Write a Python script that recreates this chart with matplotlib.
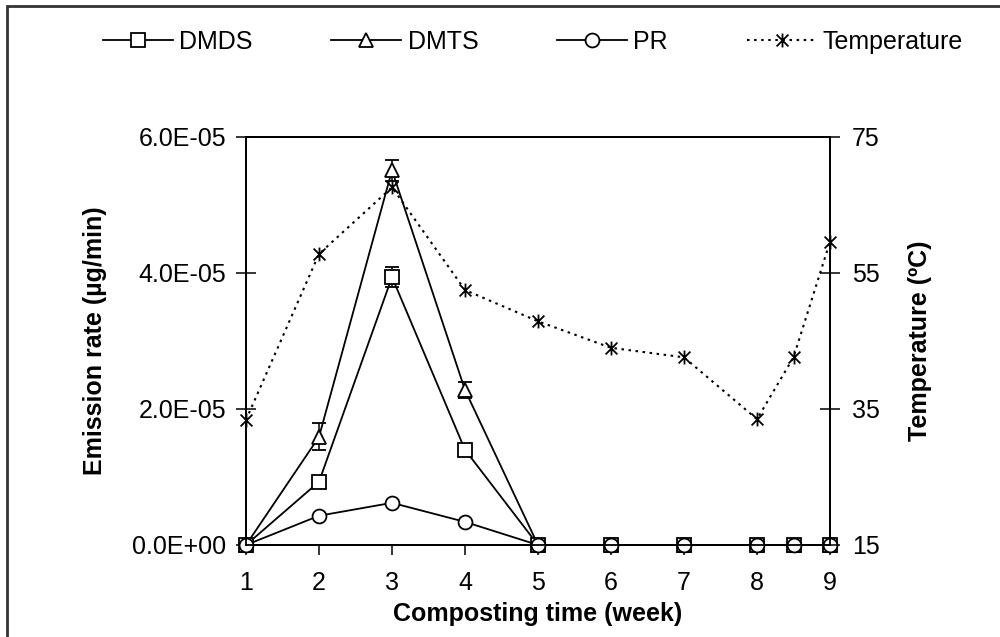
import numpy as np
import matplotlib.pyplot as plt
from matplotlib.path import Path
from matplotlib.patches import Rectangle
from matplotlib.lines import Line2D

plt.rcParams['font.family'] = ['Liberation Sans', 'DejaVu Sans']

weeks = [1, 2, 3, 4, 5, 6, 7, 8, 8.5, 9]

# emission rates, ug/min
dmds = [0, 0.93e-5, 3.94e-5, 1.40e-5, 0, 0, 0, 0, 0, 0]
dmds_err = [0, 0, 0.15e-5, 0, 0, 0, 0, 0, 0, 0]
dmts = [0, 1.59e-5, 5.51e-5, 2.28e-5, 0, 0, 0, 0, 0, 0]
dmts_err = [0, 0.2e-5, 0.15e-5, 0.12e-5, 0, 0, 0, 0, 0, 0]
pr = [0, 0.43e-5, 0.62e-5, 0.34e-5, 0, 0, 0, 0, 0, 0]

# compost temperature, degC
temperature = [33.4, 57.8, 67.6, 52.5, 47.9, 44.0, 42.6, 33.5, 42.6, 59.6]

x_ticks = [1, 2, 3, 4, 5, 6, 7, 8, 9]
left_ticks = [0, 2e-5, 4e-5, 6e-5]
right_ticks = [15, 35, 55, 75]

FS = 18

# asterisk: an x with a vertical stroke through it
star = Path(
    [(0, -1), (0, 1), (-0.85, -0.85), (0.85, 0.85), (-0.85, 0.85), (0.85, -0.85)],
    [Path.MOVETO, Path.LINETO, Path.MOVETO, Path.LINETO, Path.MOVETO, Path.LINETO],
)

fig = plt.figure(figsize=(10, 6.37), dpi=100)
ax = fig.add_axes([0.246, 1 - 545 / 637, 0.584, (545 - 137) / 637])
ax2 = ax.twinx()

marker_kw = dict(markersize=10, markerfacecolor='white',
                 markeredgecolor='black', markeredgewidth=1.3)
line_kw = dict(color='black', lw=1.3, clip_on=False, **marker_kw)
err_kw = dict(ecolor='black', elinewidth=1.1, capsize=5, capthick=1.1)
temp_kw = dict(color='black', lw=1.5, linestyle=(0, (1.2, 2.2)), marker=star,
               markersize=10, markeredgewidth=1.3)

# DMTS first, then DMDS, PR on top (where they all sit at zero)
ax.errorbar(weeks, dmts, yerr=dmts_err, marker='^', zorder=2, **line_kw, **err_kw)
ax.errorbar(weeks, dmds, yerr=dmds_err, marker='s', zorder=3, **line_kw, **err_kw)
ax.plot(weeks, pr, marker='o', zorder=4, **line_kw)
ax2.plot(weeks, temperature, clip_on=False, **temp_kw)

ax.set_xlim(1, 9)
ax.set_ylim(0, 6e-5)
ax2.set_ylim(15, 75)

ax.set_xticks(x_ticks)
ax.set_yticks(left_ticks)
ax.set_yticklabels(['{:.1E}'.format(v) for v in left_ticks])
ax2.set_yticks(right_ticks)

ax.tick_params(axis='x', direction='out', length=7, width=1.1, pad=12, labelsize=FS)
ax.tick_params(axis='y', direction='inout', length=14, width=1.1, pad=7, labelsize=FS)
ax2.tick_params(axis='y', direction='inout', length=14, width=1.1, pad=9, labelsize=FS)

for a in (ax, ax2):
    for sp in a.spines.values():
        sp.set_linewidth(1.3)

ax.set_xlabel('Composting time (week)', fontsize=FS, fontweight='bold', labelpad=5)
ax.set_ylabel('Emission rate (\u00b5g/min)', fontsize=FS, fontweight='bold', labelpad=18)
ax2.set_ylabel('Temperature (\u00baC)', fontsize=FS, fontweight='bold', labelpad=20)

# legend uses plain line+marker handles, without the error bar caps
handles = [
    Line2D([], [], color='black', lw=1.3, marker='s', **marker_kw),
    Line2D([], [], color='black', lw=1.3, marker='^', **marker_kw),
    Line2D([], [], color='black', lw=1.3, marker='o', **marker_kw),
    Line2D([], [], **temp_kw),
]
fig.legend(handles, ['DMDS', 'DMTS', 'PR', 'Temperature'], loc='center',
           bbox_to_anchor=(0.533, 1 - 42 / 637), ncol=4, frameon=False,
           fontsize=FS, handlelength=2.8, handletextpad=0.25, columnspacing=3.15)

# outer frame around the figure
fig.add_artist(Rectangle((7 / 1000, -0.1), 1.2, 1.1 - 6 / 637,
                         transform=fig.transFigure, fill=False,
                         edgecolor='#333333', lw=2))

fig.savefig('out.png', dpi=100)
